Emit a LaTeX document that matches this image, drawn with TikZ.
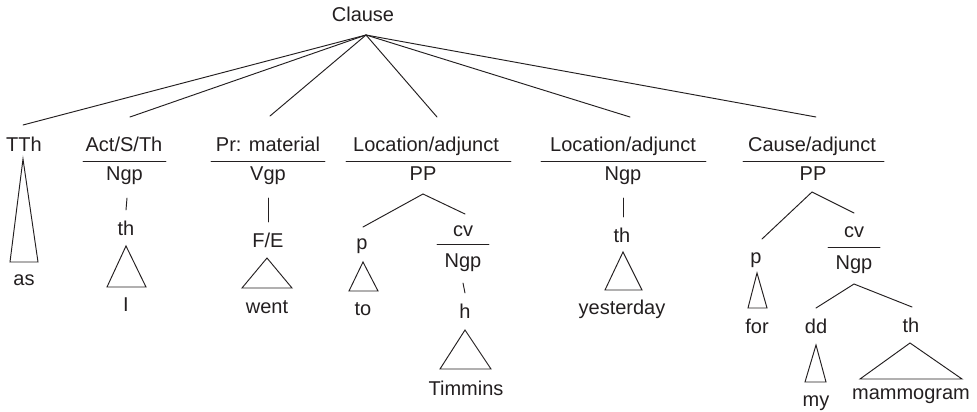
\documentclass[tikz,border=0pt]{standalone}
\usepackage{fontspec}
\setmainfont{Liberation Sans}
\definecolor{ink}{HTML}{231F20}
\begin{document}
\begin{tikzpicture}[x=1pt,y=-1pt,
  lbl/.style={inner sep=0pt, anchor=base, font=\fontsize{20}{24}\selectfont, text=ink},
  ln/.style={line width=0.95pt, draw=ink, line cap=round},
  tri/.style={line width=0.95pt, draw=ink, line join=miter}]
\useasboundingbox (0,0) rectangle (977,412);

% ---- top
\node[lbl] (clause) at (363,22) {Clause};
\coordinate (apex) at (366,35);

% ---- first-level function labels
\node[lbl] (tth)   at (24,151)  {TTh};
\node[lbl] (act)   at (124,151) {Act/S/Th};
\node[lbl] (pr)    at (268,151) {Pr: material};
\node[lbl] (loca)  at (426,151) {Location/adjunct};
\node[lbl] (locb)  at (623,151) {Location/adjunct};
\node[lbl] (cause) at (812,151) {Cause/adjunct};

\coordinate (e1) at (23,125);
\coordinate (e2) at (130,117);
\coordinate (e3) at (270,116);
\coordinate (e4) at (437,117);
\coordinate (e5) at (630,117);
\coordinate (e6) at (816,117);
\foreach \e in {e1,e2,e3,e4,e5,e6} \draw[ln] (apex) -- (\e);

% underlines
\draw[ln] (83,161) -- (166,161);
\draw[ln] (211,161) -- (325,161);
\draw[ln] (346,161) -- (511,161);
\draw[ln] (541,161) -- (706,161);
\draw[ln] (743,161) -- (884,161);

% ---- TTh
\draw[tri] (23,159) -- (10,262) -- (38,262) -- cycle;
\node[lbl] (as) at (24,285) {as};

% ---- Act/S/Th
\node[lbl] (ngpa) at (124.5,180) {Ngp};
\coordinate (a1) at (127,198); \coordinate (a2) at (126,210);
\draw[ln] (a1) -- (a2);
\node[lbl] (tha) at (126,235) {th};
\draw[tri] (126,246) -- (107,287) -- (146,287) -- cycle;
\node[lbl] (wi) at (126,311) {I};

% ---- Pr: material
\node[lbl] (vgp) at (268,180) {Vgp};
\coordinate (b1) at (268,198); \coordinate (b2) at (268,222);
\draw[ln] (b1) -- (b2);
\node[lbl] (fe) at (268,247) {F/E};
\draw[tri] (267,258) -- (242,288) -- (292,288) -- cycle;
\node[lbl] (went) at (267,313) {went};

% ---- Location/adjunct 1
\node[lbl] (ppa) at (423,180) {PP};
\coordinate (pa) at (423,194);
\coordinate (pal) at (363,227); \coordinate (par) at (465,214);
\draw[ln] (pal) -- (pa) -- (par);
\node[lbl] (pl) at (362,249) {p};
\draw[tri] (363,262) -- (349,291) -- (378,291) -- cycle;
\node[lbl] (to) at (363,315) {to};
\node[lbl] (cva) at (463,236) {cv};
\draw[ln] (437,244) -- (489,244);
\node[lbl] (ngpb) at (463,267) {Ngp};
\coordinate (c1) at (463,283); \coordinate (c2) at (465,293);
\draw[ln] (c1) -- (c2);
\node[lbl] (h) at (465,318) {h};
\draw[tri] (465,330) -- (440,369) -- (491,369) -- cycle;
\node[lbl] (timmins) at (466,395) {Timmins};

% ---- Location/adjunct 2
\node[lbl] (ngpc) at (623,180) {Ngp};
\coordinate (d1) at (623,198); \coordinate (d2) at (623,217);
\draw[ln] (d1) -- (d2);
\node[lbl] (thc) at (622,242) {th};
\draw[tri] (623,252) -- (605,290) -- (642,290) -- cycle;
\node[lbl] (yesterday) at (622,314) {yesterday};

% ---- Cause/adjunct
\node[lbl] (ppb) at (813,180) {PP};
\coordinate (qa) at (812,192);
\coordinate (qal) at (762,239); \coordinate (qar) at (854,213);
\draw[ln] (qal) -- (qa) -- (qar);
\node[lbl] (pq) at (756,263) {p};
\draw[tri] (757,273) -- (748,308) -- (767,308) -- cycle;
\node[lbl] (for) at (757,333) {for};
\node[lbl] (cvb) at (854,237) {cv};
\draw[ln] (828,247) -- (880,247);
\node[lbl] (ngpd) at (854,269) {Ngp};
\coordinate (ra) at (854,284);
\coordinate (ral) at (816,308); \coordinate (rar) at (912,307);
\draw[ln] (ral) -- (ra) -- (rar);
\node[lbl] (dd) at (816,333) {dd};
\node[lbl] (thd) at (911,332) {th};
\draw[tri] (816,345) -- (805,382) -- (826,382) -- cycle;
\node[lbl] (my) at (816,406) {my};
\draw[tri] (910,343) -- (860,379) -- (962,379) -- cycle;
\node[lbl] (mammogram) at (911,399) {mammogram};
\end{tikzpicture}
\end{document}
